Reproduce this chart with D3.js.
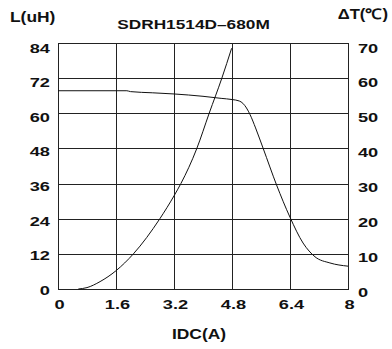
<!DOCTYPE html>
<html><head><meta charset="utf-8">
<script src="https://cdn.jsdelivr.net/npm/d3@7"></script>
<style>
html,body{margin:0;padding:0;background:#fff;}
text{font-family:"Liberation Sans",Arial,sans-serif;font-weight:bold;fill:#111;}
</style></head>
<body>
<svg id="c" width="392" height="349"></svg>
<script>
const title = "SDRH1514D\u2013680M";
const xTicks = [0, 1.6, 3.2, 4.8, 6.4, 8];
const xTickLabels = ["0", "1.6", "3.2", "4.8", "6.4", "8"];
const lTicks = [0, 12, 24, 36, 48, 60, 72, 84];
const tTicks = [0, 10, 20, 30, 40, 50, 60, 70];
const inductanceI = [0, 1.9, 2.0, 2.6, 3.2, 4.0, 4.5, 4.8, 5.0, 5.1, 5.2, 5.3, 5.45, 5.66, 6.03, 6.4, 6.76, 7.09, 7.5, 8.0];
const inductanceL = [67.7, 67.7, 67.4, 67.0, 66.6, 65.8, 65.1, 64.7, 64.2, 63.4, 61.8, 59.5, 55, 48, 35.5, 24.5, 15.7, 11, 8.9, 7.8];
const tempI = [0.56, 0.8, 1.16, 1.6, 2.08, 2.81, 3.2, 3.39, 3.83, 4.17, 4.52, 4.79];
const tempT = [0, 0.4, 2.1, 5.2, 10, 20, 26.5, 30, 40, 50, 60, 68.5];

const svg = d3.select("#c");
const L = 58, R = 348, T = 43, B = 289;
const x = d3.scaleLinear().domain([0, 8]).range([L, R]);
const yL = d3.scaleLinear().domain([0, 84]).range([B, T]);
const yT = d3.scaleLinear().domain([0, 70]).range([B, T]);

function label(px, py, txt, size, sx, anchor) {
  svg.append("text")
    .attr("transform", `translate(${px},${py}) scale(${sx},1)`)
    .attr("text-anchor", anchor).attr("font-size", size).text(txt);
}

// grid
const g = svg.append("g");
g.selectAll("line.v").data(xTicks).enter().append("line")
  .attr("x1", d => Math.round(x(d)) + 0.5).attr("x2", d => Math.round(x(d)) + 0.5)
  .attr("y1", T).attr("y2", B).attr("stroke", "#222").attr("stroke-width", 1);
g.selectAll("line.h").data(lTicks).enter().append("line")
  .attr("y1", d => Math.round(yL(d)) + 0.5).attr("y2", d => Math.round(yL(d)) + 0.5)
  .attr("x1", L).attr("x2", R + 1).attr("stroke", "#222").attr("stroke-width", 1);

// left axis labels
lTicks.forEach(d => label(50, yL(d) + 6 + 3.5 * d / 84, String(d), 13.5, 1.35, "end"));
// right axis labels
tTicks.forEach(d => label(358, yT(d) + 7.5 + 2 * d / 70, String(d), 13.5, 1.35, "start"));
// bottom labels
xTicks.forEach((d, i) => label(x(d) + 1.5, 309, xTickLabels[i], 13.5, 1.35, "middle"));

// titles
label(193.5, 29, title, 13.5, 1.28, "middle");
label(10, 22, "L(uH)", 14.5, 1.2, "start");
label(388, 19, "\u0394T(\u2103)", 14.5, 1.15, "end");
label(199, 339, "IDC(A)", 14.5, 1.2, "middle");

// curves
const lineL = d3.line().x(d => x(d[0])).y(d => yL(d[1])).curve(d3.curveMonotoneX);
const lineT = d3.line().x(d => x(d[0])).y(d => yT(d[1])).curve(d3.curveMonotoneX);
svg.append("path").datum(inductanceI.map((v, i) => [v, inductanceL[i]]))
  .attr("d", lineL).attr("fill", "none").attr("stroke", "#111").attr("stroke-width", 1);
svg.append("path").datum(tempI.map((v, i) => [v, tempT[i]]))
  .attr("d", lineT).attr("fill", "none").attr("stroke", "#111").attr("stroke-width", 1);
</script>
</body></html>
